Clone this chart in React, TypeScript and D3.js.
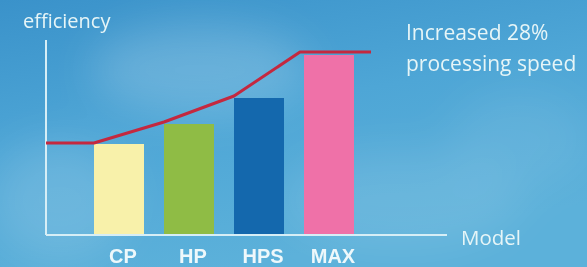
import React from "react";
import * as d3 from "d3";

const categories = ["CP", "HP", "HPS", "MAX"];
const barValues = [91, 111, 137, 180];
const lineValues = [91, 112, 138, 182];
const barColors = ["#f8f1aa", "#8fbc45", "#1468ad", "#ef71a8"];
const yLabel = "efficiency";
const xLabel = "Model";
const noteLines = ["Increased 28%", "processing speed"];

const W = 587;
const H = 267;
const axisLeft = 46;
const axisRight = 447;
const axisTop = 40;
const axisBottom = 235;

export default function App() {
  const x = d3.scaleBand().domain(categories).range([84, 364]).paddingInner(2 / 7).paddingOuter(1 / 7);
  const y = d3.scaleLinear().domain([0, 195]).range([axisBottom, axisTop]);

  const pts: [number, number][] = [];
  pts.push([axisLeft, y(lineValues[0]) - 1]);
  categories.forEach((c, i) => pts.push([x(c)! - (i === 3 ? 4 : 0), y(lineValues[i]) - 1]));
  pts.push([x("MAX")! + x.bandwidth() + 17, y(lineValues[3]) - 1]);
  const line = d3.line();

  const textFill = "#e6f5f7";
  const font = "'Open Sans', 'DejaVu Sans', sans-serif";

  return (
    <svg width={W} height={H} style={{ position: "absolute", left: 0, top: 0 }}>
      <defs>
        <linearGradient id="bg" x1="0" y1="0" x2="0.4" y2="1">
          <stop offset="0" stopColor="#3a92ca" />
          <stop offset="0.5" stopColor="#4ea6d6" />
          <stop offset="1" stopColor="#5cb1da" />
        </linearGradient>
        <filter id="blur" x="-50%" y="-50%" width="200%" height="200%">
          <feGaussianBlur stdDeviation="22" />
        </filter>
      </defs>
      <rect width={W} height={H} fill="url(#bg)" />
      <g filter="url(#blur)" fill="#ffffff">
        <ellipse cx={200} cy={70} rx={110} ry={45} opacity={0.18} />
        <ellipse cx={60} cy={200} rx={70} ry={60} opacity={0.14} />
        <ellipse cx={400} cy={200} rx={120} ry={50} opacity={0.1} />
        <ellipse cx={520} cy={140} rx={70} ry={50} opacity={0.08} />
      </g>

      <line x1={axisLeft} y1={axisTop} x2={axisLeft} y2={axisBottom} stroke="#d6eef6" strokeWidth={2} />
      <line x1={axisLeft} y1={axisBottom} x2={axisRight} y2={axisBottom} stroke="#d6eef6" strokeWidth={2} />

      {categories.map((c, i) => (
        <rect key={c} x={x(c)} y={y(barValues[i])} width={x.bandwidth()} height={axisBottom - 1 - y(barValues[i])} fill={barColors[i]} />
      ))}

      <path d={line(pts) || ""} fill="none" stroke="#c4283f" strokeWidth={3} strokeLinejoin="round" />

      {categories.map((c) => (
        <text key={c} x={x(c)! + x.bandwidth() / 2 + 4} y={263} textAnchor="middle" fontFamily="'Liberation Sans', Arial, sans-serif" fontWeight="bold" fontSize={20} fill="#eef8fb">
          {c}
        </text>
      ))}

      <text x={23} y={28} fontFamily={font} fontSize={20} fill={textFill}>{yLabel}</text>
      <text x={461} y={245} fontFamily={font} fontSize={20.5} fill={textFill}>{xLabel}</text>
      {noteLines.map((t, i) => (
        <text key={t} x={406} y={40 + i * 31} fontFamily={font} fontSize={21} fill={textFill}>{t}</text>
      ))}
    </svg>
  );
}
